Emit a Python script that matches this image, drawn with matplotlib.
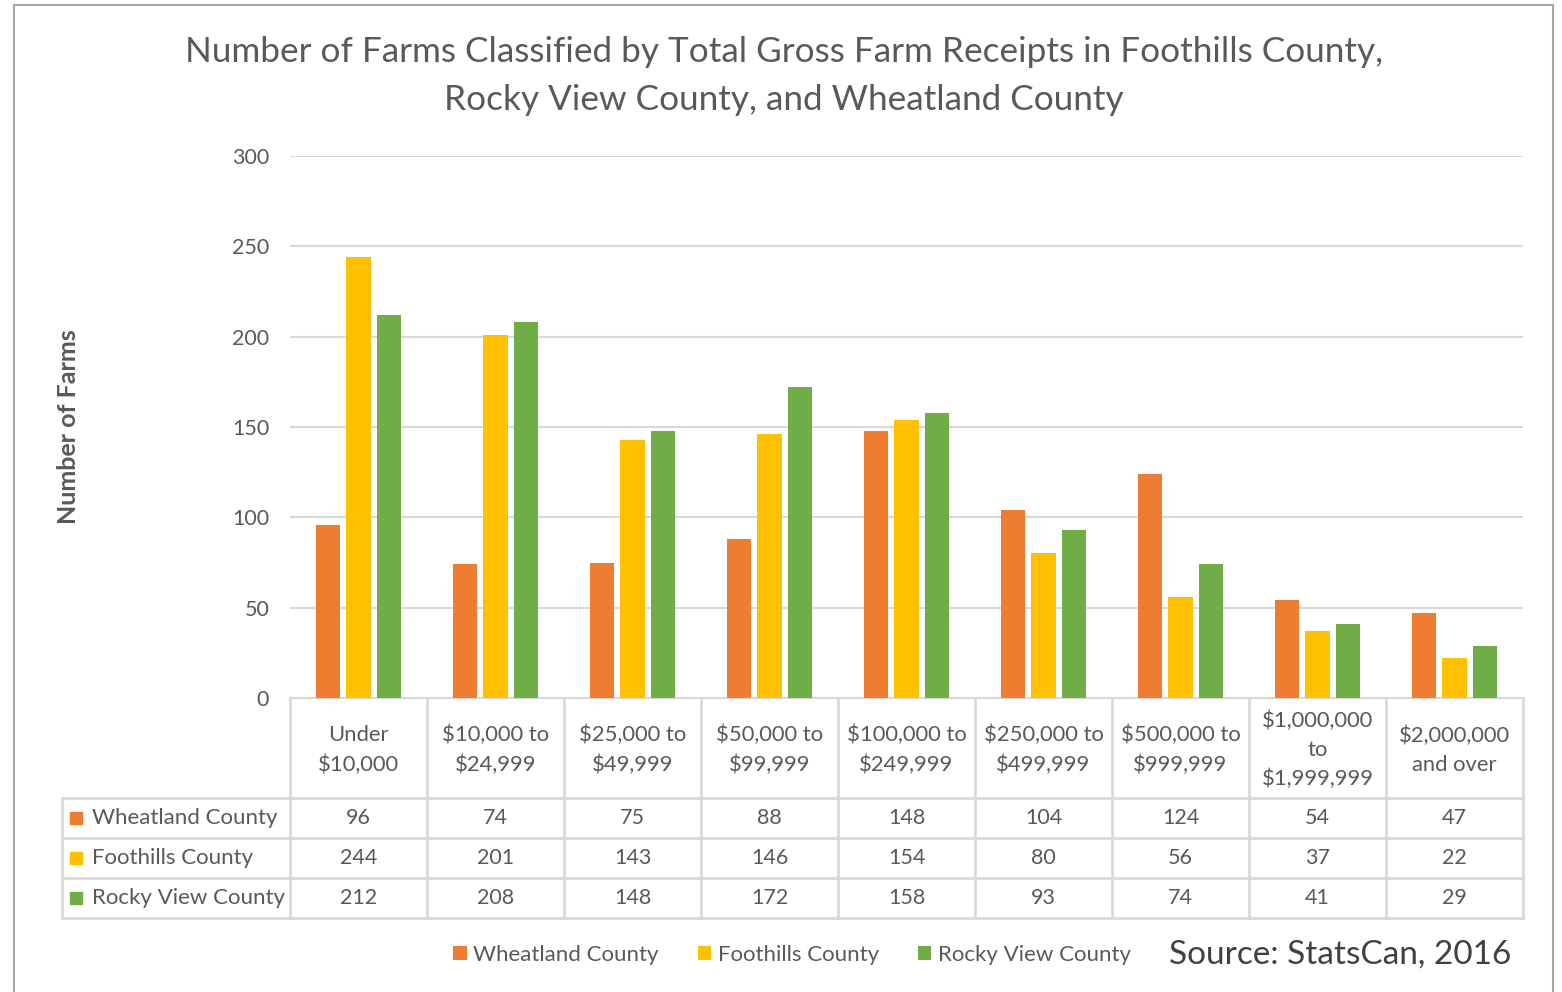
import matplotlib
matplotlib.use('Agg')
import matplotlib.pyplot as plt
from matplotlib.patches import Rectangle, Patch
import numpy as np

plt.rcParams['font.family'] = ['Lato', 'DejaVu Sans']

categories = ['Under\n$10,000', '$10,000 to\n$24,999', '$25,000 to\n$49,999',
              '$50,000 to\n$99,999', '$100,000 to\n$249,999', '$250,000 to\n$499,999',
              '$500,000 to\n$999,999', '$1,000,000\nto\n$1,999,999', '$2,000,000\nand over']
series_names = ['Wheatland County', 'Foothills County', 'Rocky View County']
wheatland = [96, 74, 75, 88, 148, 104, 124, 54, 47]
foothills = [244, 201, 143, 146, 154, 80, 56, 37, 22]
rocky_view = [212, 208, 148, 172, 158, 93, 74, 41, 29]
colors = ['#ED7D31', '#FFC000', '#70AD47']

TXT = '#595959'
GRID = '#D9D9D9'
W, H = 1562, 992

fig = plt.figure(figsize=(W / 100, H / 100), dpi=100)


def fx(px):
    return px / W


def fy(py):
    return 1 - py / H


# outer chart border
fig.patches.append(Rectangle((fx(14), fy(1100)), fx(1553) - fx(14), fy(5) - fy(1100),
                             transform=fig.transFigure, fill=False,
                             edgecolor='#A6A6A6', lw=1.5))

# main plot area
ax = fig.add_axes([fx(290), fy(698), fx(1523) - fx(290), fy(156) - fy(698)])
x = np.arange(len(categories))
offset = 0.223
bw = 0.178
for i, vals in enumerate([wheatland, foothills, rocky_view]):
    ax.bar(x + (i - 1) * offset, vals, width=bw, color=colors[i], zorder=3)

ax.set_xlim(-0.5, len(categories) - 0.5)
ax.set_ylim(0, 300)
ax.set_yticks(np.arange(0, 301, 50))
ax.tick_params(axis='y', length=0, pad=15, labelsize=15.5, labelcolor=TXT)
ax.set_xticks([])
ax.grid(axis='y', color=GRID, lw=1.5, zorder=0)
for s in ['top', 'right', 'left']:
    ax.spines[s].set_visible(False)
ax.spines['bottom'].set_color(GRID)
ax.spines['bottom'].set_linewidth(1.5)

fig.text(fx(68), fy(427), 'Number of Farms', rotation=90, ha='center', va='center',
         fontsize=18, fontweight='bold', color=TXT)

# data table below the plot, sharing the category x scale
tab = fig.add_axes([fx(290), fy(918), fx(1523) - fx(290), fy(698) - fy(918)], sharex=ax)
tab.set_ylim(0, 5.5)
tab.axis('off')
left = -0.5 - (290 - 62) / 137.0
right = len(categories) - 0.5
lk = dict(color=GRID, lw=2, clip_on=False)
for yy in [0, 1, 2, 3]:
    tab.plot([left, right], [yy, yy], **lk)
tab.plot([left, left], [0, 3], **lk)
for b in np.arange(-0.5, len(categories), 1.0):
    tab.plot([b, b], [0, 5.5], **lk)

for xi, lab in zip(x, categories):
    tab.text(xi, 4.2, lab, ha='center', va='center', fontsize=15.8, color=TXT,
             linespacing=1.55, clip_on=False)

for r, (name, vals) in enumerate(zip(series_names, [wheatland, foothills, rocky_view])):
    yc = 2.5 - r
    tab.add_patch(Rectangle((left + 0.06, yc - 0.16), 0.085, 0.32, color=colors[r],
                            clip_on=False))
    tab.text(left + 0.22, yc, name, ha='left', va='center', fontsize=16, color=TXT,
             clip_on=False)
    for xi, v in zip(x, vals):
        tab.text(xi, yc, str(v), ha='center', va='center', fontsize=15.5, color=TXT,
                 clip_on=False)

# title
fig.text(fx(784), fy(52), 'Number of Farms Classified by Total Gross Farm Receipts in Foothills County,',
         ha='center', va='center', fontsize=25.3, color=TXT)
fig.text(fx(784), fy(100), 'Rocky View County, and Wheatland County',
         ha='center', va='center', fontsize=25.3, color=TXT)

# legend
handles = [Patch(facecolor=c, edgecolor='none') for c in colors]
fig.legend(handles, series_names, loc='center', bbox_to_anchor=(fx(792), fy(955)),
           ncol=3, frameon=False, fontsize=16, labelcolor=TXT, handlelength=0.6,
           handleheight=0.6, handletextpad=0.3, columnspacing=1.75)

fig.text(fx(1511), fy(955), 'Source: StatsCan, 2016', ha='right', va='center',
         fontsize=24, color='#404040')

fig.savefig('out.png', dpi=100)
